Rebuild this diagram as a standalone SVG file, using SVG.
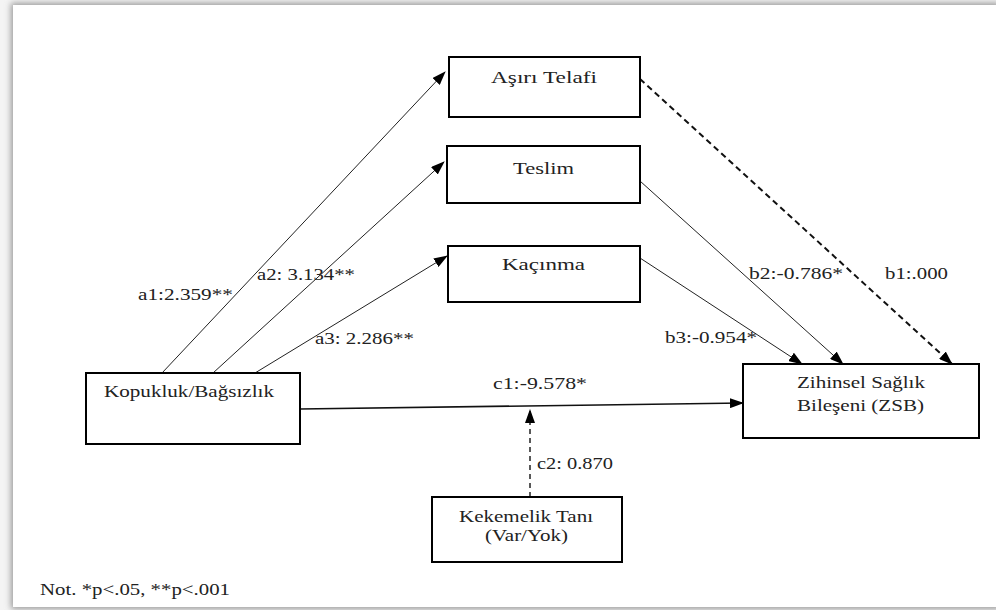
<svg xmlns="http://www.w3.org/2000/svg" width="996" height="610" viewBox="0 0 996 610" font-family="'Times New Roman', Times, 'Liberation Serif', 'DejaVu Serif', serif">
<defs>
<filter id="sh" x="-5%" y="-5%" width="110%" height="110%">
<feGaussianBlur stdDeviation="3"/>
</filter>
<marker id="ah" markerWidth="14" markerHeight="10" refX="13" refY="5" orient="auto" markerUnits="userSpaceOnUse">
<path d="M0,0 L14,5 L0,10 Z" fill="#000"/>
</marker>
<style>
.box{fill:#fff;stroke:#000;stroke-width:2}
.ln{fill:none;stroke:#222;stroke-width:1}
.thick{stroke:#111;stroke-width:2}
.mid{stroke:#111;stroke-width:1.6}
.d1{stroke-dasharray:6,4}
.d2{stroke-width:1.5;stroke-dasharray:5,4}
.t{font-family:'Times New Roman',Times,'Liberation Serif','DejaVu Serif',serif;font-size:17px;fill:#222}
</style>
</defs>
<rect x="0" y="0" width="996" height="610" fill="#f4f4f4"/>
<rect x="11" y="3" width="990" height="606" fill="#9a9a9a" filter="url(#sh)"/>
<rect x="13" y="5" width="990" height="602" fill="#fff"/>

<g id="connectors">
<line class="ln" x1="162" y1="373" x2="445" y2="72" marker-end="url(#ah)"/>
<line class="ln" x1="213" y1="373" x2="444" y2="162" marker-end="url(#ah)"/>
<line class="ln" x1="255" y1="373" x2="447" y2="256" marker-end="url(#ah)"/>
<line class="ln thick d1" x1="640" y1="79" x2="952" y2="364" marker-end="url(#ah)"/>
<line class="ln" x1="640" y1="181" x2="843" y2="364" marker-end="url(#ah)"/>
<line class="ln" x1="640" y1="258" x2="802" y2="364" marker-end="url(#ah)"/>
<line class="ln mid" x1="300" y1="409" x2="743" y2="403" marker-end="url(#ah)"/>
<line class="ln d2" x1="530" y1="497" x2="530" y2="410" marker-end="url(#ah)"/>
<text class="t" x="138" y="300" textLength="95" lengthAdjust="spacingAndGlyphs">a1:2.359**</text>
<text class="t" x="257" y="280" textLength="98" lengthAdjust="spacingAndGlyphs">a2: 3.134**</text>
<text class="t" x="315" y="344" textLength="99" lengthAdjust="spacingAndGlyphs">a3: 2.286**</text>
<text class="t" x="749" y="279" textLength="94" lengthAdjust="spacingAndGlyphs">b2:-0.786*</text>
<text class="t" x="885" y="279" textLength="63" lengthAdjust="spacingAndGlyphs">b1:.000</text>
<text class="t" x="665" y="343" textLength="92" lengthAdjust="spacingAndGlyphs">b3:-0.954*</text>
<text class="t" x="493" y="389" textLength="94" lengthAdjust="spacingAndGlyphs">c1:-9.578*</text>
<text class="t" x="537" y="469" textLength="76" lengthAdjust="spacingAndGlyphs">c2: 0.870</text>
</g>

<g id="node-asiri">
<rect class="box" x="449" y="57" width="191" height="60"/>
<text class="t" x="491" y="83" textLength="106" lengthAdjust="spacingAndGlyphs">Aşırı Telafi</text>
</g>
<g id="node-teslim">
<rect class="box" x="447" y="146" width="193" height="57"/>
<text class="t" x="513" y="174" textLength="61" lengthAdjust="spacingAndGlyphs">Teslim</text>
</g>
<g id="node-kacinma">
<rect class="box" x="448" y="246" width="192" height="56"/>
<text class="t" x="502" y="270" textLength="83" lengthAdjust="spacingAndGlyphs">Kaçınma</text>
</g>
<g id="node-kopukluk">
<rect class="box" x="86" y="373" width="214" height="71"/>
<text class="t" x="104" y="397" textLength="170" lengthAdjust="spacingAndGlyphs">Kopukluk/Bağsızlık</text>
</g>
<g id="node-zsb">
<rect class="box" x="743" y="364" width="236" height="74"/>
<text class="t" x="797" y="388" textLength="128" lengthAdjust="spacingAndGlyphs">Zihinsel Sağlık</text>
<text class="t" x="797" y="411" textLength="127" lengthAdjust="spacingAndGlyphs">Bileşeni (ZSB)</text>
</g>
<g id="node-kekemelik">
<rect class="box" x="432" y="497" width="190" height="65"/>
<text class="t" x="459" y="522" textLength="134" lengthAdjust="spacingAndGlyphs">Kekemelik Tanı</text>
<text class="t" x="485" y="541" textLength="83" lengthAdjust="spacingAndGlyphs">(Var/Yok)</text>
</g>
<text class="t" x="40" y="595" textLength="190" lengthAdjust="spacingAndGlyphs">Not. *p&lt;.05, **p&lt;.001</text>
</svg>
